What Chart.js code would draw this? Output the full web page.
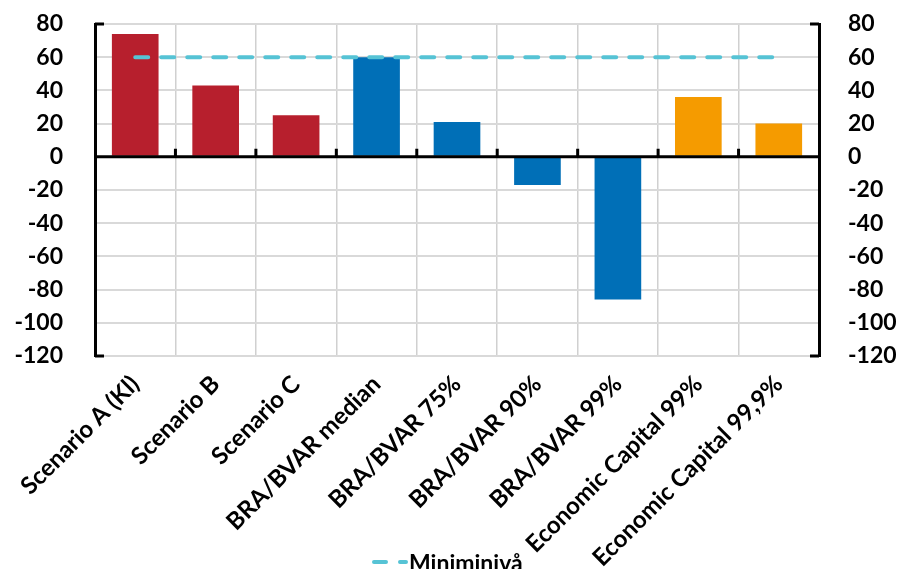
<!DOCTYPE html>
<html>
<head>
<meta charset="utf-8">
<script src="https://cdn.jsdelivr.net/npm/chart.js@4/dist/chart.umd.min.js"></script>
<style>
  html, body { margin: 0; padding: 0; background: #fff; }
  #wrap { width: 904px; height: 569px; }
</style>
</head>
<body>
<div id="wrap"><canvas id="grafico"></canvas></div>
<script>
'use strict';

// Datos
const categorias = ['Scenario A (Kl)', 'Scenario B', 'Scenario C', 'BRA/BVAR median',
    'BRA/BVAR 75%', 'BRA/BVAR 90%', 'BRA/BVAR 99%', 'Economic Capital 99%', 'Economic Capital 99,9%'];
const valores = [74, 43, 25, 60, 21, -17, -86, 36, 20];
const grupos = ['scenario', 'scenario', 'scenario', 'bvar', 'bvar', 'bvar', 'bvar', 'ec', 'ec'];
const miniminiva = [60, 60, 60, 60, 60, 60, 60, 60, 60];
const yTicks = [80, 60, 40, 20, 0, -20, -40, -60, -80, -100, -120];

const COLORES = { scenario: '#B71F2D', bvar: '#006FB7', ec: '#F59B00' };
const CIAN = '#56C3D5';
const FUENTE = 'Lato, "Open Sans", sans-serif';

/* Eje cero, marcas, extremos de los ejes y leyenda.
   La leyenda se dibuja aquí porque en el original se solapa con las
   etiquetas giradas del eje x. */
const ejesPlugin = {
    id: 'ejes',
    afterDatasetsDraw(chart) {
        const { ctx, chartArea: a, scales } = chart;
        const y0 = scales.y.getPixelForValue(0);
        const paso = (a.right - a.left) / categorias.length;
        ctx.save();
        ctx.strokeStyle = '#000';
        ctx.lineWidth = 3;
        ctx.beginPath();
        ctx.moveTo(a.left, y0);
        ctx.lineTo(a.right, y0);
        for (let i = 1; i < categorias.length; i++) {
            const px = a.left + paso * i;
            ctx.moveTo(px, y0);
            ctx.lineTo(px, y0 - 8);
        }
        [a.top, a.bottom].forEach(py => {
            ctx.moveTo(a.left, py);
            ctx.lineTo(a.left + 9, py);
            ctx.moveTo(a.right, py);
            ctx.lineTo(a.right - 9, py);
        });
        ctx.stroke();
        ctx.restore();
    },
    afterDraw(chart) {
        const ctx = chart.ctx;
        const ds = chart.data.datasets[0];
        ctx.save();
        ctx.strokeStyle = ds.borderColor;
        ctx.lineWidth = 4;
        ctx.lineCap = 'round';
        ctx.beginPath();
        ctx.moveTo(374, 562); ctx.lineTo(386, 562);
        ctx.moveTo(400, 562); ctx.lineTo(406, 562);
        ctx.stroke();
        ctx.fillStyle = '#000';
        ctx.font = 'bold 23px ' + FUENTE;
        ctx.textBaseline = 'alphabetic';
        ctx.fillText(ds.label, 409, 571);
        ctx.restore();
    }
};

new Chart(document.getElementById('grafico'), {
    type: 'bar',
    data: {
        labels: categorias,
        datasets: [{
            type: 'line',
            label: 'Miniminivå',
            data: miniminiva,
            borderColor: CIAN,
            backgroundColor: CIAN,
            borderWidth: 4,
            borderDash: [13, 13],
            borderCapStyle: 'round',
            pointRadius: 0,
            fill: false,
            order: 0,
            yAxisID: 'y'
        }, {
            label: 'valores',
            data: valores,
            backgroundColor: grupos.map(g => COLORES[g]),
            barPercentage: 0.58,
            categoryPercentage: 1,
            order: 1,
            yAxisID: 'y'
        }]
    },
    options: {
        responsive: true,
        maintainAspectRatio: false,
        animation: false,
        layout: { padding: { top: 24, bottom: 0, left: 0, right: 0 } },
        plugins: {
            tooltip: { enabled: false },
            legend: { display: false }
        },
        scales: {
            x: {
                grid: { color: '#D0D0D0', lineWidth: 1.5, drawTicks: false, offset: true },
                border: { display: false },
                ticks: {
                    color: '#000',
                    minRotation: 45,
                    maxRotation: 45,
                    padding: 14,
                    font: { family: FUENTE, size: 24, weight: 'bold' }
                },
                afterFit: s => { s.height = 213; }
            },
            y: {
                position: 'left',
                min: -120,
                max: 80,
                afterBuildTicks: s => { s.ticks = yTicks.map(v => ({ value: v })); },
                grid: { color: '#D9D9D9', lineWidth: 2, drawTicks: true, tickLength: 30, tickColor: 'rgba(0,0,0,0)' },
                border: { color: '#000', width: 3 },
                ticks: {
                    color: '#000',
                    padding: 2,
                    font: { family: FUENTE, size: 23, weight: 'bold' }
                },
                afterFit: s => { s.width = 95; }
            },
            y2: {
                position: 'right',
                min: -120,
                max: 80,
                afterBuildTicks: s => { s.ticks = yTicks.map(v => ({ value: v })); },
                grid: { drawOnChartArea: false, drawTicks: true, tickLength: 27, tickColor: 'rgba(0,0,0,0)' },
                border: { color: '#000', width: 3 },
                ticks: {
                    color: '#000',
                    padding: 2,
                    font: { family: FUENTE, size: 23, weight: 'bold' }
                },
                afterFit: s => { s.width = 85; }
            }
        }
    },
    plugins: [ejesPlugin]
});
</script>
</body>
</html>
